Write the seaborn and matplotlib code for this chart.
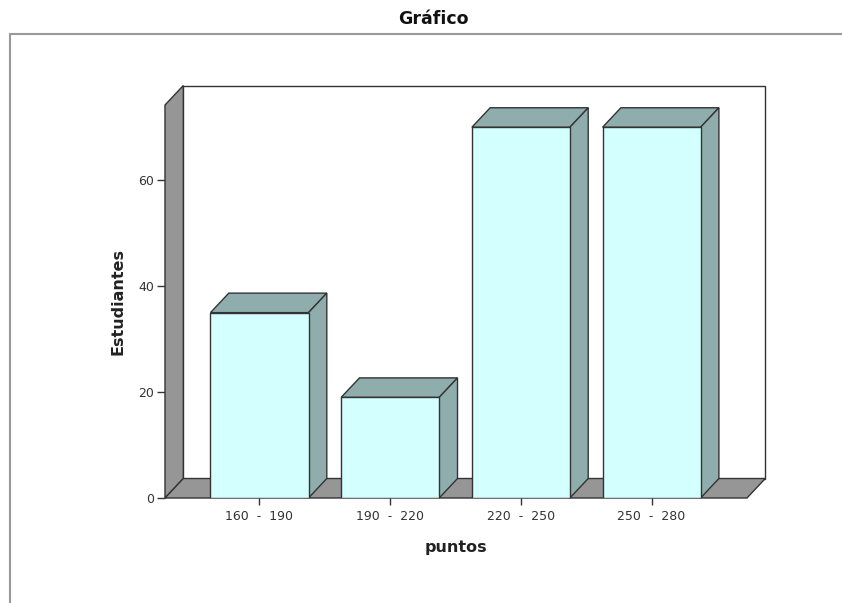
import matplotlib
matplotlib.use("Agg")
import matplotlib.pyplot as plt
import pandas as pd
import seaborn as sns
from matplotlib.patches import Polygon
from matplotlib.lines import Line2D

# Datos del gráfico
rangos = ['160  -  190', '190  -  220', '220  -  250', '250  -  280']
estudiantes = [35, 19, 70, 70]
y_ticks = [0, 20, 40, 60]

df = pd.DataFrame({'puntos': rangos, 'Estudiantes': estudiantes})

sns.set_style("white")
plt.rcParams['font.family'] = ['DejaVu Sans']

color_frente = '#D4FFFF'
color_lado = '#8FADAD'
color_pared = '#969696'
color_borde = '#333333'

fig = plt.figure(figsize=(8.42, 6.03), dpi=100)
ax = fig.add_axes([165 / 842, 1 - 498 / 603, 582 / 842, 393 / 603])
ax.patch.set_visible(False)

# Barras frontales
sns.barplot(data=df, x='puntos', y='Estudiantes', color=color_frente,
            edgecolor=color_borde, linewidth=1.0, width=0.75, saturation=1,
            ax=ax, zorder=3)

xmin, xmax = -0.723, 3.73
ymin, ymax = 0, 74.2
ax.set_xlim(xmin, xmax)
ax.set_ylim(ymin, ymax)

# profundidad del efecto 3D (en unidades de datos)
dx = 18.3 / 130.7
dy = 19.5 / 5.3

# pared del fondo
fondo = Polygon([(xmin + dx, dy), (xmin + dx, ymax + dy), (xmax + dx, ymax + dy), (xmax + dx, dy)],
                closed=True, facecolor='white', edgecolor=color_borde, linewidth=1.0,
                clip_on=False, zorder=0.5)
ax.add_patch(fondo)
# pared izquierda
pared = Polygon([(xmin, 0), (xmin, ymax), (xmin + dx, ymax + dy), (xmin + dx, dy)],
                closed=True, facecolor=color_pared, edgecolor=color_borde, linewidth=1.0,
                clip_on=False, zorder=0.6)
ax.add_patch(pared)
# piso
piso = Polygon([(xmin, 0), (xmin + dx, dy), (xmax + dx, dy), (xmax, 0)],
               closed=True, facecolor=color_pared, edgecolor=color_borde, linewidth=1.0,
               clip_on=False, zorder=0.6)
ax.add_patch(piso)

# caras superior y lateral de cada barra
for p in list(ax.patches):
    if not hasattr(p, 'get_width') or p in (fondo, pared, piso):
        continue
    x0 = p.get_x()
    w = p.get_width()
    h = p.get_height()
    arriba = Polygon([(x0, h), (x0 + dx, h + dy), (x0 + w + dx, h + dy), (x0 + w, h)],
                     closed=True, facecolor=color_lado, edgecolor=color_borde,
                     linewidth=1.0, clip_on=False, zorder=2)
    lado = Polygon([(x0 + w, 0), (x0 + w, h), (x0 + w + dx, h + dy), (x0 + w + dx, dy)],
                   closed=True, facecolor=color_lado, edgecolor=color_borde,
                   linewidth=1.0, clip_on=False, zorder=2)
    ax.add_patch(arriba)
    ax.add_patch(lado)

for s in ax.spines.values():
    s.set_visible(False)

ax.set_yticks(y_ticks)
ax.tick_params(axis='y', direction='out', length=6, width=1, color=color_borde,
               labelsize=9, labelcolor='#333333', pad=2, left=True)
ax.tick_params(axis='x', direction='out', length=5, width=1, color=color_borde,
               labelsize=9, labelcolor='#333333', pad=4, bottom=True)

ax.set_xlabel('puntos', fontsize=11.5, fontweight='bold', color='#222222', labelpad=12)
ax.set_ylabel('Estudiantes', fontsize=11.5, fontweight='bold', color='#222222', labelpad=9)

# título y marco exterior
fig.text(433 / 842, 1 - 19 / 603, 'Gráfico', ha='center', va='center',
         fontsize=12.5, fontweight='bold', color='#111111')
fig.add_artist(Line2D([10 / 842, 1.0], [1 - 34 / 603, 1 - 34 / 603],
                      color='#999999', linewidth=1.5, transform=fig.transFigure))
fig.add_artist(Line2D([10 / 842, 10 / 842], [1 - 34 / 603, 0.0],
                      color='#999999', linewidth=1.5, transform=fig.transFigure))

fig.savefig('out.png', dpi=100)
